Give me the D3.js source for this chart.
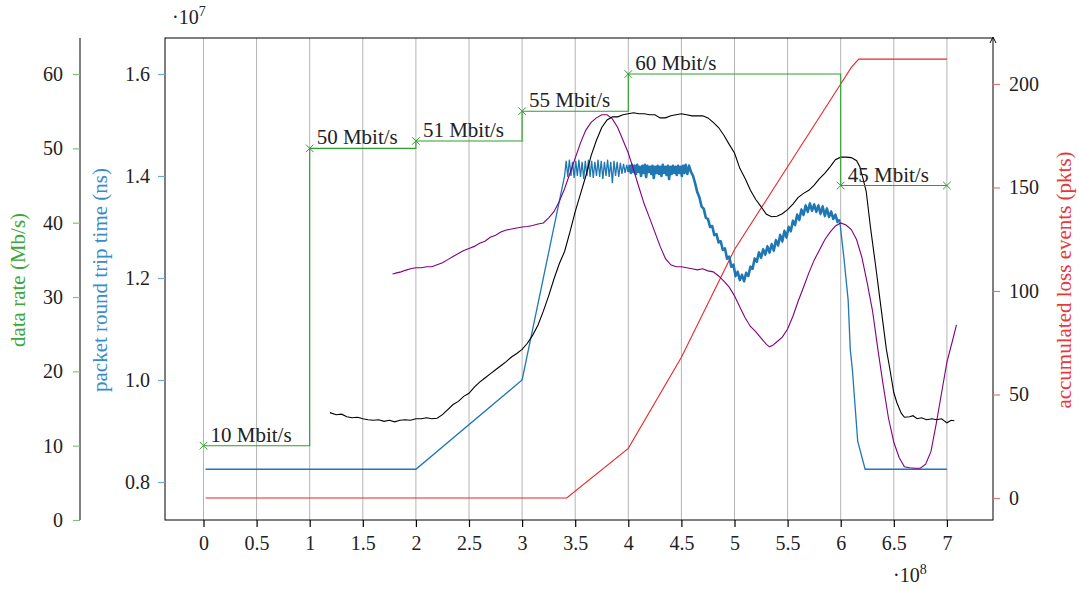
<!DOCTYPE html>
<html>
<head>
<meta charset="utf-8">
<script src="https://cdn.jsdelivr.net/npm/d3@7"></script>
<style>
  body { margin: 0; background: #fff; }
  svg text { font-family: "Liberation Serif", "DejaVu Serif", serif; }
</style>
</head>
<body>
<div id="plot"></div>
<script>
// Data (x in units of 1e8, rtt in units of 1e7 ns)
const xTicks = [0, 0.5, 1, 1.5, 2, 2.5, 3, 3.5, 4, 4.5, 5, 5.5, 6, 6.5, 7];
const rateTicks = [0, 10, 20, 30, 40, 50, 60];
const rttTicks = [0.8, 1.0, 1.2, 1.4, 1.6];
const lossTicks = [0, 50, 100, 150, 200];

// data rate steps (const plot)
const rateX = [0, 1, 2, 3, 4, 6, 7];
const rateY = [10, 50, 51, 55, 60, 45, 45];
const rateLabels = ["10 Mbit/s", "50 Mbit/s", "51 Mbit/s", "55 Mbit/s", "60 Mbit/s", "45 Mbit/s", ""];

// packet round trip time
const rttPts = [
  [0.02, 0.825], [2.0, 0.825], [3.0, 1.0], [3.40, 1.400],
  [3.415, 1.430], [3.43, 1.398], [3.445, 1.432], [3.46, 1.400], [3.475, 1.428], [3.49, 1.396],
  [3.505, 1.430], [3.52, 1.400], [3.535, 1.432], [3.55, 1.398], [3.565, 1.428], [3.58, 1.394],
  [3.595, 1.430], [3.61, 1.400], [3.625, 1.432], [3.64, 1.398], [3.655, 1.430], [3.67, 1.396],
  [3.685, 1.428], [3.70, 1.400], [3.715, 1.432], [3.73, 1.398], [3.745, 1.430], [3.76, 1.394],
  [3.775, 1.428], [3.79, 1.400], [3.805, 1.432], [3.82, 1.398], [3.835, 1.428], [3.85, 1.386],
  [3.865, 1.430], [3.88, 1.400], [3.895, 1.428], [3.91, 1.398], [3.925, 1.426], [3.94, 1.404],
  [3.955, 1.424], [3.97, 1.406], [3.985, 1.422], [4.00, 1.408],
  [4.012, 1.420], [4.024, 1.406], [4.036, 1.422], [4.048, 1.408], [4.06, 1.420], [4.072, 1.404],
  [4.084, 1.422], [4.096, 1.408], [4.108, 1.418], [4.12, 1.400], [4.132, 1.420], [4.144, 1.406],
  [4.156, 1.422], [4.168, 1.398], [4.18, 1.420], [4.192, 1.408], [4.204, 1.418], [4.216, 1.404],
  [4.228, 1.420], [4.24, 1.396], [4.252, 1.418], [4.264, 1.406], [4.276, 1.420], [4.288, 1.404],
  [4.30, 1.418], [4.312, 1.400], [4.324, 1.422], [4.336, 1.406], [4.348, 1.418], [4.36, 1.402],
  [4.372, 1.420], [4.384, 1.394], [4.396, 1.418], [4.408, 1.404], [4.42, 1.420], [4.432, 1.406],
  [4.444, 1.418], [4.456, 1.402], [4.468, 1.420], [4.48, 1.406], [4.492, 1.418], [4.504, 1.400],
  [4.516, 1.420], [4.528, 1.406], [4.54, 1.422], [4.556, 1.404], [4.572, 1.420], [4.59, 1.408],
  [4.61, 1.400], [4.63, 1.385], [4.65, 1.368], [4.67, 1.358], [4.69, 1.340], [4.71, 1.336],
  [4.73, 1.318], [4.75, 1.316], [4.77, 1.300], [4.79, 1.302], [4.81, 1.284], [4.83, 1.286],
  [4.85, 1.270], [4.87, 1.272], [4.89, 1.255], [4.91, 1.258], [4.93, 1.238], [4.95, 1.242],
  [4.97, 1.222], [4.99, 1.226], [5.01, 1.204], [5.03, 1.212], [5.05, 1.196], [5.07, 1.206],
  [5.09, 1.194], [5.11, 1.210], [5.13, 1.204], [5.15, 1.222], [5.17, 1.218], [5.19, 1.238],
  [5.21, 1.232], [5.23, 1.250], [5.25, 1.240], [5.27, 1.256], [5.29, 1.246], [5.31, 1.262],
  [5.33, 1.250], [5.35, 1.266], [5.37, 1.254], [5.39, 1.274], [5.41, 1.264], [5.43, 1.284],
  [5.45, 1.272], [5.47, 1.292], [5.49, 1.280], [5.51, 1.300], [5.53, 1.292], [5.55, 1.312],
  [5.57, 1.304], [5.59, 1.324], [5.61, 1.314], [5.63, 1.334], [5.65, 1.324], [5.67, 1.342],
  [5.69, 1.330], [5.71, 1.346], [5.73, 1.332], [5.75, 1.344], [5.77, 1.330], [5.79, 1.342],
  [5.81, 1.326], [5.83, 1.340], [5.85, 1.322], [5.87, 1.336], [5.89, 1.320], [5.91, 1.330],
  [5.93, 1.316], [5.95, 1.324], [5.97, 1.310], [5.99, 1.314],
  [6.03, 1.24], [6.07, 1.157], [6.09, 1.06], [6.11, 1.02], [6.16, 0.88], [6.23, 0.825], [7.0, 0.825]
];

// black curve
const blackPts = [
  [1.19, 0.936], [1.25, 0.932], [1.30, 0.933], [1.35, 0.928], [1.40, 0.926], [1.45, 0.927],
  [1.50, 0.924], [1.55, 0.922], [1.60, 0.921], [1.65, 0.922], [1.70, 0.919], [1.75, 0.921],
  [1.80, 0.918], [1.85, 0.921], [1.90, 0.922], [1.95, 0.921], [2.00, 0.924], [2.05, 0.924],
  [2.10, 0.926], [2.15, 0.924], [2.20, 0.925], [2.25, 0.932], [2.30, 0.942], [2.35, 0.952],
  [2.40, 0.958], [2.45, 0.968], [2.50, 0.974], [2.55, 0.986], [2.60, 0.996], [2.65, 1.004],
  [2.70, 1.012], [2.75, 1.020], [2.80, 1.028], [2.85, 1.036], [2.90, 1.045], [2.95, 1.052],
  [3.00, 1.060], [3.05, 1.072], [3.10, 1.088], [3.15, 1.108], [3.20, 1.135], [3.25, 1.165],
  [3.30, 1.198], [3.35, 1.228], [3.40, 1.252], [3.45, 1.290], [3.50, 1.330], [3.55, 1.365],
  [3.60, 1.400], [3.65, 1.440], [3.70, 1.470], [3.75, 1.495], [3.80, 1.510], [3.85, 1.516],
  [3.90, 1.516], [3.95, 1.520], [4.00, 1.522], [4.05, 1.524], [4.10, 1.522], [4.15, 1.522],
  [4.20, 1.520], [4.25, 1.520], [4.30, 1.514], [4.35, 1.514], [4.40, 1.518], [4.45, 1.520],
  [4.50, 1.522], [4.55, 1.520], [4.60, 1.518], [4.65, 1.518], [4.70, 1.518], [4.75, 1.514],
  [4.80, 1.505], [4.85, 1.495], [4.90, 1.480], [4.95, 1.462], [5.00, 1.445], [5.05, 1.415],
  [5.10, 1.395], [5.15, 1.372], [5.20, 1.354], [5.25, 1.340], [5.30, 1.325], [5.35, 1.320],
  [5.40, 1.321], [5.45, 1.326], [5.50, 1.334], [5.55, 1.345], [5.60, 1.358], [5.65, 1.366],
  [5.70, 1.372], [5.75, 1.382], [5.80, 1.395], [5.85, 1.405], [5.90, 1.418], [5.95, 1.432],
  [6.00, 1.437], [6.05, 1.437], [6.10, 1.436], [6.15, 1.430], [6.18, 1.418], [6.21, 1.395],
  [6.24, 1.370], [6.28, 1.300], [6.33, 1.222], [6.37, 1.157], [6.43, 1.060], [6.46, 1.025],
  [6.50, 0.975], [6.53, 0.955], [6.57, 0.935], [6.60, 0.927], [6.65, 0.928], [6.68, 0.930],
  [6.72, 0.924], [6.76, 0.926], [6.81, 0.922], [6.86, 0.924], [6.90, 0.922], [6.95, 0.924],
  [7.00, 0.916], [7.04, 0.921], [7.07, 0.920]
];

// purple curve
const purplePts = [
  [1.78, 1.208], [1.82, 1.210], [1.86, 1.212], [1.90, 1.215], [1.95, 1.218], [2.00, 1.220],
  [2.05, 1.220], [2.10, 1.222], [2.15, 1.222], [2.20, 1.226], [2.25, 1.230], [2.30, 1.236],
  [2.35, 1.242], [2.40, 1.248], [2.45, 1.254], [2.50, 1.258], [2.55, 1.262], [2.60, 1.268],
  [2.65, 1.272], [2.70, 1.280], [2.75, 1.284], [2.80, 1.290], [2.85, 1.294], [2.90, 1.296],
  [2.95, 1.298], [3.00, 1.300], [3.05, 1.301], [3.10, 1.303], [3.15, 1.306], [3.20, 1.308],
  [3.25, 1.318], [3.30, 1.330], [3.35, 1.350], [3.40, 1.375], [3.45, 1.405], [3.50, 1.435],
  [3.55, 1.465], [3.60, 1.490], [3.65, 1.505], [3.70, 1.514], [3.75, 1.520], [3.80, 1.520],
  [3.85, 1.512], [3.90, 1.495], [3.95, 1.470], [4.00, 1.445], [4.05, 1.412], [4.10, 1.378],
  [4.15, 1.345], [4.20, 1.318], [4.25, 1.290], [4.30, 1.262], [4.35, 1.238], [4.40, 1.226],
  [4.45, 1.222], [4.50, 1.222], [4.55, 1.220], [4.60, 1.218], [4.65, 1.216], [4.70, 1.218],
  [4.75, 1.214], [4.80, 1.212], [4.85, 1.204], [4.90, 1.194], [4.95, 1.182], [5.00, 1.165],
  [5.05, 1.143], [5.10, 1.122], [5.15, 1.105], [5.20, 1.095], [5.25, 1.082], [5.30, 1.070],
  [5.33, 1.065], [5.36, 1.068], [5.40, 1.075], [5.45, 1.084], [5.50, 1.100], [5.55, 1.125],
  [5.60, 1.155], [5.65, 1.182], [5.70, 1.210], [5.75, 1.235], [5.80, 1.255], [5.85, 1.275],
  [5.90, 1.290], [5.95, 1.302], [6.00, 1.308], [6.05, 1.304], [6.10, 1.295], [6.15, 1.275],
  [6.20, 1.240], [6.25, 1.190], [6.30, 1.135], [6.35, 1.060], [6.40, 0.990], [6.45, 0.925],
  [6.50, 0.878], [6.55, 0.848], [6.60, 0.830], [6.65, 0.828], [6.70, 0.827], [6.75, 0.827],
  [6.80, 0.835], [6.85, 0.860], [6.90, 0.915], [6.95, 0.975], [7.00, 1.035], [7.05, 1.075],
  [7.09, 1.108]
];

// accumulated loss events
const lossX = [0.02, 3.42, 4.0, 4.5, 5.0, 5.5, 6.0, 6.1, 6.17, 7.0];
const lossY = [0, 0, 24, 68, 120, 160, 200, 208, 212, 212];

// Layout
const W = 1079, H = 590;
const plot = { left: 165, right: 993, top: 38, bottom: 520 };
const cGreen = "#2ca02c", cBlue = "#1f77b4", cRed = "#e8262a", cPurple = "#800080";
const fontSize = 20;

const svg = d3.select("#plot").append("svg")
  .attr("width", W).attr("height", H);

const x = d3.scaleLinear().domain([-0.3625, 7.434]).range([plot.left, plot.right]);
const yRate = d3.scaleLinear().domain([0, 64.85]).range([plot.bottom, plot.top]);
const yRtt = d3.scaleLinear().domain([0.7255, 1.6706]).range([plot.bottom, plot.top]);
const yLoss = d3.scaleLinear().domain([-10.63, 222.2]).range([plot.bottom, plot.top]);

// grid
svg.append("g")
  .selectAll("line")
  .data(xTicks)
  .enter().append("line")
  .attr("x1", d => x(d)).attr("x2", d => x(d))
  .attr("y1", plot.top).attr("y2", plot.bottom)
  .attr("stroke", "#b4b4b4").attr("stroke-width", 1);

// clip
svg.append("clipPath").attr("id", "clip")
  .append("rect").attr("x", plot.left).attr("y", plot.top)
  .attr("width", plot.right - plot.left).attr("height", plot.bottom - plot.top);

const g = svg.append("g").attr("clip-path", "url(#clip)");

// loss line
const lossLine = d3.line().x((d, i) => x(lossX[i])).y(d => yLoss(d));
g.append("path").datum(lossY)
  .attr("d", lossLine)
  .attr("fill", "none").attr("stroke", cRed).attr("stroke-width", 1.1);

// rtt line (noisy stretch drawn a bit heavier)
const rttLine = d3.line().x(d => x(d[0])).y(d => yRtt(d[1]));
g.append("path").datum(rttPts)
  .attr("d", rttLine)
  .attr("fill", "none").attr("stroke", cBlue).attr("stroke-width", 1.3);
g.append("path").datum(rttPts.filter(d => d[0] >= 3.99 && d[0] <= 6.0))
  .attr("d", rttLine)
  .attr("fill", "none").attr("stroke", cBlue).attr("stroke-width", 2.6)
  .attr("stroke-linejoin", "round");

g.append("path").datum(purplePts)
  .attr("d", rttLine)
  .attr("fill", "none").attr("stroke", cPurple).attr("stroke-width", 1.1);

g.append("path").datum(blackPts)
  .attr("d", rttLine)
  .attr("fill", "none").attr("stroke", "#000").attr("stroke-width", 1.1);

// data rate step line
const rateLine = d3.line().curve(d3.curveStepAfter)
  .x((d, i) => x(rateX[i])).y(d => yRate(d));
g.append("path").datum(rateY)
  .attr("d", rateLine)
  .attr("fill", "none").attr("stroke", cGreen).attr("stroke-width", 1.1);

// markers + labels
const marks = svg.append("g");
rateY.forEach((v, i) => {
  const cx = x(rateX[i]), cy = yRate(v), s = 3.8;
  marks.append("path")
    .attr("d", `M${cx - s},${cy - s}L${cx + s},${cy + s}M${cx - s},${cy + s}L${cx + s},${cy - s}`)
    .attr("stroke", cGreen).attr("stroke-width", 1);
  if (rateLabels[i]) {
    marks.append("text")
      .attr("x", cx + 7).attr("y", cy - 4)
      .attr("font-size", fontSize + 1).attr("fill", "#222")
      .text(rateLabels[i]);
  }
});

// frame
svg.append("rect")
  .attr("x", plot.left).attr("y", plot.top)
  .attr("width", plot.right - plot.left).attr("height", plot.bottom - plot.top)
  .attr("fill", "none").attr("stroke", "#000").attr("stroke-width", 1);

// arrow on right axis
svg.append("path")
  .attr("d", `M${plot.right - 3},${plot.top + 5}L${plot.right},${plot.top - 1}L${plot.right + 3},${plot.top + 5}`)
  .attr("fill", "none").attr("stroke", "#000").attr("stroke-width", 1);

function styleAxis(sel, color) {
  sel.select(".domain").remove();
  sel.selectAll(".tick line").attr("stroke", color).attr("stroke-width", 1.2);
  sel.selectAll(".tick text")
    .attr("fill", "#222")
    .style("font-family", "'Liberation Serif', serif")
    .style("font-size", fontSize + "px");
}

// x axis
svg.append("g")
  .attr("transform", `translate(0,${plot.bottom})`)
  .call(d3.axisBottom(x).tickValues(xTicks).tickSize(7).tickPadding(9).tickFormat(d => String(d)))
  .call(s => styleAxis(s, "#000"));

// rtt axis
svg.append("g")
  .attr("transform", `translate(${plot.left},0)`)
  .call(d3.axisLeft(yRtt).tickValues(rttTicks).tickSize(7).tickPadding(8).tickFormat(d3.format(".1f")))
  .call(s => styleAxis(s, "#6fa8d6"));

// loss axis
svg.append("g")
  .attr("transform", `translate(${plot.right},0)`)
  .call(d3.axisRight(yLoss).tickValues(lossTicks).tickSize(7).tickPadding(9))
  .call(s => styleAxis(s, "#ee7070"));

// rate axis (offset to the left)
const rateAxisX = 80;
svg.append("line")
  .attr("x1", rateAxisX).attr("x2", rateAxisX)
  .attr("y1", plot.top).attr("y2", plot.bottom)
  .attr("stroke", "#000").attr("stroke-width", 1);
svg.append("g")
  .attr("transform", `translate(${rateAxisX},0)`)
  .call(d3.axisLeft(yRate).tickValues(rateTicks).tickSize(7).tickPadding(10))
  .call(s => styleAxis(s, "#7cc47c"));

// axis titles
const midY = (plot.top + plot.bottom) / 2 + 1;
svg.append("text")
  .attr("transform", `translate(25,${midY}) rotate(-90)`)
  .attr("text-anchor", "middle").attr("font-size", fontSize + 1).attr("fill", "#3aa83a")
  .text("data rate (Mb/s)");
svg.append("text")
  .attr("transform", `translate(107,${midY}) rotate(-90)`)
  .attr("text-anchor", "middle").attr("font-size", fontSize + 1).attr("fill", "#3a8cc8")
  .text("packet round trip time (ns)");
svg.append("text")
  .attr("transform", `translate(1071,${midY}) rotate(-90)`)
  .attr("text-anchor", "middle").attr("font-size", fontSize + 1).attr("fill", "#e8393a")
  .text("accumulated loss events (pkts)");

// scale exponents
const e7 = svg.append("text").attr("x", 172).attr("y", 24).attr("font-size", fontSize).attr("fill", "#222");
e7.append("tspan").text("·10");
e7.append("tspan").attr("dy", -8).attr("font-size", 14).text("7");
const e8 = svg.append("text").attr("x", 893).attr("y", 582).attr("font-size", fontSize).attr("fill", "#222");
e8.append("tspan").text("·10");
e8.append("tspan").attr("dy", -8).attr("font-size", 14).text("8");
</script>
</body>
</html>
